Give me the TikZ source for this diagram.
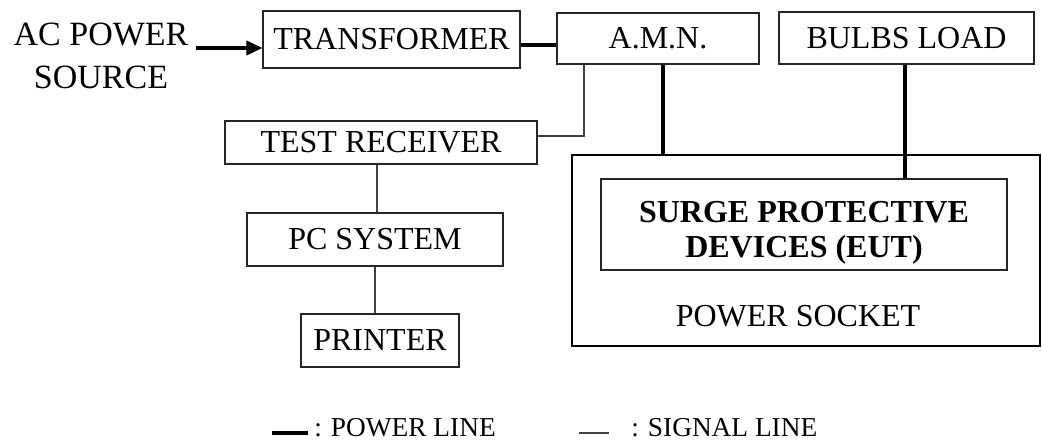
\documentclass[tikz,border=0pt]{standalone}
\usepackage{fontspec}
\setmainfont{Liberation Serif}
\usetikzlibrary{arrows.meta}
\begin{document}
\begin{tikzpicture}[x=0.75pt,y=-0.75pt,
  box/.style={draw=black!85, line width=0.8pt, inner sep=0pt,
    font=\fontsize{24}{26}\selectfont},
  lbl/.style={inner sep=0pt, font=\fontsize{24}{26}\selectfont},
  power/.style={line width=2.6pt},
  signal/.style={draw=black!75, line width=0.8pt},
  legend/.style={inner sep=0pt, font=\fontsize{20.5}{22}\selectfont},
]
\useasboundingbox (0,0) rectangle (1042,441);

% equipment boxes
\node[box, minimum width=192.75pt, minimum height=42.75pt] (tr)  at (391.5,39.5) {TRANSFORMER};
\node[box, minimum width=151.5pt,  minimum height=38.25pt] (amn) at (658,38.5)   {A.M.N.};
\node[box, minimum width=191.25pt, minimum height=39pt]    (bl)  at (906.5,38)   {BULBS LOAD};
\node[box, minimum width=234pt,    minimum height=32.25pt] (trx) at (381,142.5)  {TEST RECEIVER};
\node[box, minimum width=192pt,    minimum height=39.75pt] (pc)  at (375,239.5)  {PC SYSTEM};
\node[box, minimum width=118.5pt,  minimum height=39.75pt] (prn) at (380,340.5)  {PRINTER};

% power socket with the device under test inside
\node[draw, line width=1.2pt, minimum width=351pt, minimum height=143.25pt, inner sep=0pt] (ps) at (806,250.5) {};
\node[box, minimum width=304.5pt, minimum height=68.25pt] (spd) at (804,224.5) {};
\node[lbl, align=center, font=\fontsize{24}{26.25}\selectfont\bfseries] (spdtxt) at (804,233)
      {SURGE PROTECTIVE\\DEVICES (EUT)};
\node[lbl, anchor=base] (pslbl) at (798,327) {POWER SOCKET};

% source
\node[inner sep=0pt, align=center, anchor=base, font=\fontsize{25.5}{32.3}\selectfont] (src) at (101,89) {AC POWER\\SOURCE};
\coordinate (srcout) at (196,48);
\draw[power, -{Triangle[length=12pt, width=10.5pt]}] (srcout) -- (srcout -| tr.west);

% power lines
\draw[power] (tr.east |- 0,45) -- (amn.west |- 0,45);
\draw[power] (amn.south -| 663,0) -- (ps.north -| 663,0);
\draw[power] (bl.south -| 905,0) -- (spd.north -| 905,0);

% signal lines
\draw[signal] (amn.south -| 584,0) |- (trx.east |- 0,136);
\draw[signal] (trx.south -| 377,0) -- (pc.north -| 377,0);
\draw[signal] (pc.south -| 375,0) -- (prn.north -| 375,0);

% legend
\coordinate (pla) at (272,433);
\coordinate (plb) at (308,433);
\draw[power] (pla) -- (plb);
\node[legend, anchor=base west] (pltxt) at (314,436) {: POWER LINE};
\coordinate (sla) at (579,433);
\coordinate (slb) at (609,433);
\draw[signal] (sla) -- (slb);
\node[legend, anchor=base west] (sltxt) at (631,436) {: SIGNAL LINE};
\end{tikzpicture}
\end{document}
